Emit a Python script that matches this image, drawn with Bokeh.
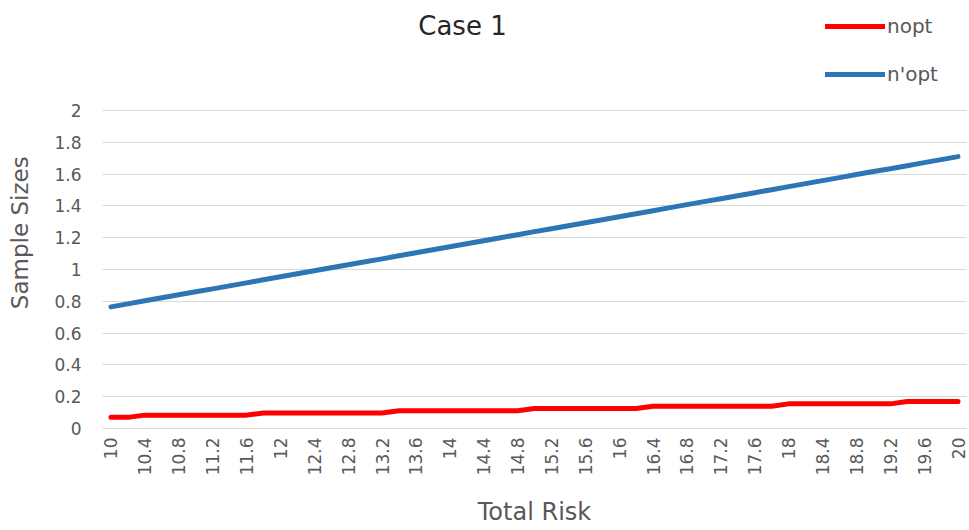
import math
from bokeh.plotting import figure
from bokeh.models import Legend, LegendItem, Label, FixedTicker, Range1d
from bokeh.embed import file_html
from bokeh.resources import INLINE

# ---- data ----
total_risk = ["10", "10.2", "10.4", "10.6", "10.8", "11", "11.2", "11.4", "11.6", "11.8",
              "12", "12.2", "12.4", "12.6", "12.8", "13", "13.2", "13.4", "13.6", "13.8",
              "14", "14.2", "14.4", "14.6", "14.8", "15", "15.2", "15.4", "15.6", "15.8",
              "16", "16.2", "16.4", "16.6", "16.8", "17", "17.2", "17.4", "17.6", "17.8",
              "18", "18.2", "18.4", "18.6", "18.8", "19", "19.2", "19.4", "19.6", "19.8", "20"]

nopt = [0.070, 0.070,
        0.084, 0.084, 0.084, 0.084, 0.084, 0.084, 0.084,
        0.098, 0.098, 0.098, 0.098, 0.098, 0.098, 0.098, 0.098,
        0.112, 0.112, 0.112, 0.112, 0.112, 0.112, 0.112, 0.112,
        0.126, 0.126, 0.126, 0.126, 0.126, 0.126, 0.126,
        0.140, 0.140, 0.140, 0.140, 0.140, 0.140, 0.140, 0.140,
        0.155, 0.155, 0.155, 0.155, 0.155, 0.155, 0.155,
        0.170, 0.170, 0.170, 0.170]

nopt_prime = [0.765, 0.784, 0.803, 0.822, 0.841, 0.860, 0.878, 0.897, 0.916, 0.935,
              0.954, 0.973, 0.992, 1.011, 1.030, 1.049, 1.067, 1.086, 1.105, 1.124,
              1.143, 1.162, 1.181, 1.200, 1.219, 1.238, 1.256, 1.275, 1.294, 1.313,
              1.332, 1.351, 1.370, 1.389, 1.408, 1.427, 1.445, 1.464, 1.483, 1.502,
              1.521, 1.540, 1.559, 1.578, 1.597, 1.616, 1.634, 1.653, 1.672, 1.691, 1.710]

shown_x_labels = ["10", "10.4", "10.8", "11.2", "11.6", "12", "12.4", "12.8", "13.2", "13.6",
                  "14", "14.4", "14.8", "15.2", "15.6", "16", "16.4", "16.8", "17.2", "17.6",
                  "18", "18.4", "18.8", "19.2", "19.6", "20"]

y_ticks = [0, 0.2, 0.4, 0.6, 0.8, 1, 1.2, 1.4, 1.6, 1.8, 2]
y_tick_labels = ["0", "0.2", "0.4", "0.6", "0.8", "1", "1.2", "1.4", "1.6", "1.8", "2"]

FONT = "DejaVu Sans"
GREY = "#595959"

x_vals = [float(v) for v in total_risk]
x_tick_vals = [float(v) for v in shown_x_labels]

# frame spans canvas top (0) to y=428; value 2 sits at y=110
FRAME_H = 428
Y_TOP = 2 * FRAME_H / (FRAME_H - 110)

p = figure(width=969, height=530, title=None,
           x_range=Range1d(9.9, 20.1),
           y_range=Range1d(0, Y_TOP),
           output_backend="svg", toolbar_location=None,
           min_border_left=102, min_border_right=3,
           min_border_top=0, min_border_bottom=102)
p.outline_line_color = None
p.background_fill_color = "white"
p.border_fill_color = "white"

r1 = p.line(x_vals, nopt, line_color="#FF0000", line_width=5,
            line_join="round", line_cap="round")
r2 = p.line(x_vals, nopt_prime, line_color="#2E75B6", line_width=5,
            line_join="round", line_cap="round")

# grid
p.xgrid.grid_line_color = None
p.ygrid.grid_line_color = "#D9D9D9"
p.ygrid.grid_line_width = 1

# y axis
yt = FixedTicker(ticks=y_ticks)
p.yaxis.ticker = yt
p.ygrid.ticker = yt
p.yaxis.major_label_overrides = dict(zip(y_ticks, y_tick_labels))
p.yaxis.axis_line_color = None
p.yaxis.major_tick_line_color = None
p.yaxis.minor_tick_line_color = None
p.yaxis.major_tick_out = 0
p.yaxis.major_tick_in = 0
p.yaxis.major_label_standoff = 21
p.yaxis.major_label_text_font = FONT
p.yaxis.major_label_text_font_size = "17px"
p.yaxis.major_label_text_color = GREY
# trailing no-break spaces nudge the visible title down to the reference's position
p.yaxis.axis_label = "Sample Sizes" + "\u00a0" * 5
p.yaxis.axis_label_text_font = FONT
p.yaxis.axis_label_text_font_size = "23px"
p.yaxis.axis_label_text_font_style = "normal"
p.yaxis.axis_label_text_color = GREY
p.yaxis.axis_label_standoff = 18

# x axis
xt = FixedTicker(ticks=x_tick_vals)
p.xaxis.ticker = xt
p.xaxis.major_label_overrides = {v: s for v, s in zip(x_tick_vals, shown_x_labels)}
p.xaxis.major_label_orientation = math.pi / 2
p.xaxis.axis_line_color = "#D9D9D9"
p.xaxis.major_tick_line_color = None
p.xaxis.minor_tick_line_color = None
p.xaxis.major_tick_out = 0
p.xaxis.major_tick_in = 0
p.xaxis.major_label_standoff = 9
p.xaxis.major_label_text_font = FONT
p.xaxis.major_label_text_font_size = "17px"
p.xaxis.major_label_text_color = GREY
p.xaxis.axis_label = "Total Risk"
p.xaxis.axis_label_text_font = FONT
p.xaxis.axis_label_text_font_size = "24px"
p.xaxis.axis_label_text_font_style = "normal"
p.xaxis.axis_label_text_color = GREY
p.xaxis.axis_label_standoff = 20

# title (placed inside the frame's empty upper band)
title = Label(x=360, y=FRAME_H - 25, x_units="screen", y_units="screen", text="Case 1",
              text_align="center", text_baseline="middle",
              text_font=FONT, text_font_size="26px", text_color="#262626")
p.add_layout(title)

# legend
legend = Legend(items=[LegendItem(label="nopt", renderers=[r1]),
                       LegendItem(label="n'opt", renderers=[r2])],
                location=(723, FRAME_H - 86), orientation="vertical",
                glyph_width=60, glyph_height=24, label_height=24,
                spacing=24, padding=0, margin=0, label_standoff=2,
                border_line_color=None, background_fill_alpha=0,
                label_text_font=FONT, label_text_font_size="20px",
                label_text_color=GREY)
p.add_layout(legend)

open("out.html", "w").write(file_html(p, INLINE))
